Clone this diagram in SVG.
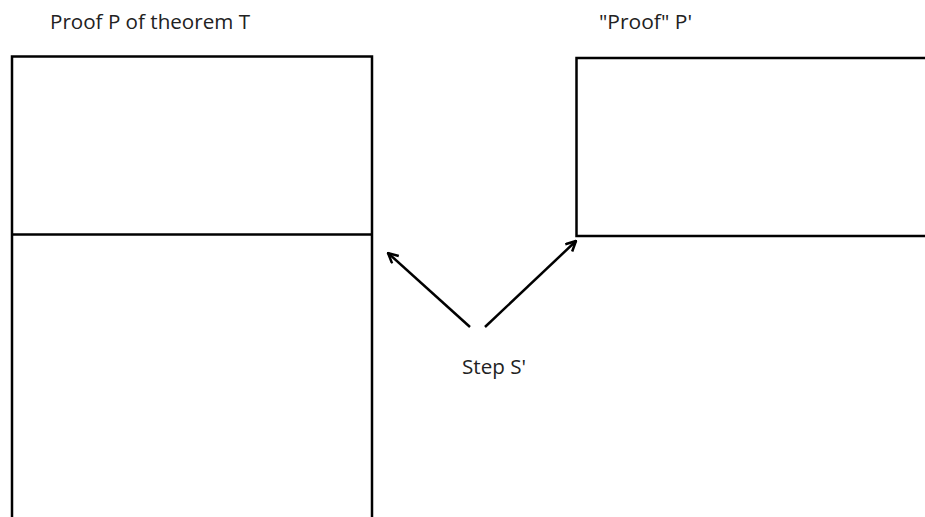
<svg xmlns="http://www.w3.org/2000/svg" width="925" height="517" viewBox="0 0 925 517">
<style>
.box{fill:none;stroke:#000;stroke-width:2.5}
.lbl{font-family:"Open Sans","Liberation Sans",sans-serif;font-size:20px;fill:#222}
.arr{fill:none;stroke:#000;stroke-width:2.5}
</style>
<defs>
<marker id="head" viewBox="0 0 12 12" refX="11" refY="6" markerWidth="12" markerHeight="12" markerUnits="userSpaceOnUse" orient="auto">
<path d="M1,1 L11,6 L1,11" fill="none" stroke="#000" stroke-width="2.5"/>
</marker>
</defs>
<rect width="925" height="517" fill="#fff"/>
<g id="proofP">
<path class="box" d="M12,530 V56.5 H372 V530"/>
<line class="box" x1="12" y1="234.5" x2="372" y2="234.5"/>
<text class="lbl" x="50" y="29" textLength="200" lengthAdjust="spacingAndGlyphs">Proof P of theorem T</text>
</g>
<g id="proofPprime">
<path class="box" d="M940,58 H576.5 V236 H940"/>
<text class="lbl" x="599" y="29" textLength="93" lengthAdjust="spacingAndGlyphs">"Proof" P'</text>
</g>
<g id="stepS">
<text class="lbl" x="462" y="374" textLength="64" lengthAdjust="spacingAndGlyphs">Step S'</text>
</g>
<g id="connectors">
<line class="arr" x1="470" y1="327" x2="388" y2="253" marker-end="url(#head)"/>
<line class="arr" x1="485" y1="327" x2="576" y2="241" marker-end="url(#head)"/>
</g>
</svg>
